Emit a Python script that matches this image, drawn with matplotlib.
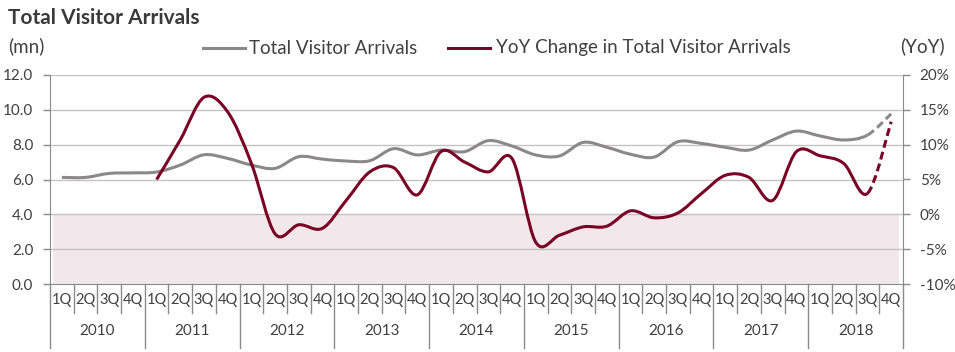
import numpy as np
import matplotlib
matplotlib.use("Agg")
import matplotlib.pyplot as plt
from matplotlib.path import Path
from matplotlib.patches import PathPatch
from matplotlib.lines import Line2D
import matplotlib.transforms as mtransforms

plt.rcParams['font.family'] = ['Lato', 'DejaVu Sans']

# data (quarterly, 2010 1Q .. 2018 4Q)
years = ['2010', '2011', '2012', '2013', '2014', '2015', '2016', '2017', '2018']
quarters = ['1Q', '2Q', '3Q', '4Q']
arrivals = [6.12, 6.12, 6.35, 6.38, 6.43, 6.83, 7.42, 7.21, 6.83, 6.64, 7.31, 7.17,
            7.06, 7.08, 7.77, 7.41, 7.69, 7.60, 8.23, 7.92, 7.41, 7.35, 8.13, 7.85,
            7.45, 7.29, 8.17, 8.07, 7.85, 7.69, 8.27, 8.78, 8.50, 8.27, 8.55, 9.77]
yoy = [np.nan, np.nan, np.nan, np.nan,
       5.0, 10.7, 16.8, 14.7, 7.3, -2.8, -1.5, -2.0,
       2.0, 6.1, 6.7, 2.8, 9.0, 7.5, 6.1, 8.0,
       -4.0, -3.0, -1.8, -1.7, 0.5, -0.5, 0.2, 3.0,
       5.6, 5.3, 2.0, 9.0, 8.4, 7.3, 3.0, 13.3]
left_ticks = [0, 2, 4, 6, 8, 10, 12]
right_ticks = [-10, -5, 0, 5, 10, 15, 20]
band_top = 4.0   # negative YoY zone (0% on right axis)

GRAY = '#8c8889'
RED = '#7a0026'
TXT = '#404040'
AXC = '#8a8a8a'


def smooth_paths(x, y, last_dashed=True):
    # excel-like smoothed line as cubic bezier segments (catmull-rom control points)
    x = np.asarray(x, float)
    y = np.asarray(y, float)
    n = len(x)
    segs = []
    for i in range(n - 1):
        p0 = np.array([x[max(i - 1, 0)], y[max(i - 1, 0)]])
        p1 = np.array([x[i], y[i]])
        p2 = np.array([x[i + 1], y[i + 1]])
        p3 = np.array([x[min(i + 2, n - 1)], y[min(i + 2, n - 1)]])
        c1 = p1 + (p2 - p0) / 6
        c2 = p2 - (p3 - p1) / 6
        segs.append((p1, c1, c2, p2))

    def build(ss):
        verts = [ss[0][0]]
        codes = [Path.MOVETO]
        for _, c1, c2, p2 in ss:
            verts += [c1, c2, p2]
            codes += [Path.CURVE4] * 3
        return Path(verts, codes)

    if last_dashed:
        return build(segs[:-1]), build(segs[-1:])
    return build(segs), None


fig = plt.figure(figsize=(9.55, 3.52), dpi=100)
ax = fig.add_axes([50 / 955, 1 - 284 / 352, 853 / 955, 209 / 352])
ax2 = ax.twinx()

n = len(arrivals)
xs = np.arange(n)
ax.set_xlim(-0.5, n - 0.5)
ax.set_ylim(0, 12)
ax2.set_ylim(-10, 20)

# shaded negative zone
ax.fill_between([-0.37, n - 0.68], 0, band_top, color='#f2e7eb', lw=0, zorder=0)

# gridlines
for v in left_ticks[1:]:
    ax.axhline(v, color='#c3c3c3', lw=1.0, zorder=1)

# total arrivals
solid, dashed = smooth_paths(xs, arrivals)
ax.add_patch(PathPatch(solid, fill=False, edgecolor=GRAY, lw=2.2, capstyle='butt', zorder=3))
ax.add_patch(PathPatch(dashed, fill=False, edgecolor=GRAY, lw=2.2, ls=(0, (2.6, 1.4)),
                       capstyle='butt', zorder=3))

# yoy change
yv = np.array(yoy, float)
ok = ~np.isnan(yv)
solid, dashed = smooth_paths(xs[ok], yv[ok])
ax2.add_patch(PathPatch(solid, fill=False, edgecolor=RED, lw=2.2, capstyle='butt', zorder=4))
ax2.add_patch(PathPatch(dashed, fill=False, edgecolor=RED, lw=2.2, ls=(0, (2.6, 1.4)),
                        capstyle='butt', zorder=4))

# axes styling
for a in (ax, ax2):
    a.spines['top'].set_visible(False)
    a.spines['left'].set_color(AXC)
    a.spines['right'].set_color(AXC)
    a.spines['bottom'].set_color(AXC)
ax.spines['right'].set_visible(False)
ax2.spines['left'].set_visible(False)
ax2.spines['bottom'].set_visible(False)

ax.set_yticks(left_ticks)
ax.set_yticklabels([f'{v:.1f}' for v in left_ticks])
ax.tick_params(axis='y', length=5, width=1, color=AXC, labelcolor=TXT, labelsize=11, pad=7)
ax2.set_yticks(right_ticks)
ax2.set_yticklabels([f'{v}%' for v in right_ticks])
ax2.tick_params(axis='y', length=5, width=1, color=AXC, labelcolor=TXT, labelsize=11, pad=7)
ax.set_xticks([])

# two-level category axis
trans = mtransforms.blended_transform_factory(ax.transData, ax.transAxes)
for k in range(n + 1):
    bottom = -0.306 if k % 4 == 0 else -0.139
    ax.add_line(Line2D([k - 0.5, k - 0.5], [0, bottom], transform=trans, color=AXC,
                       lw=1.0, clip_on=False))
for i in range(n):
    ax.text(i, -0.077, quarters[i % 4], transform=trans, ha='center', va='center',
            fontsize=10.5, color=TXT)
for j, yr in enumerate(years):
    ax.text(j * 4 + 1.5, -0.225, yr, transform=trans, ha='center', va='center',
            fontsize=11, color=TXT)

# titles / units
fig.text(8 / 955, 1 - 18 / 352, 'Total Visitor Arrivals', fontsize=15, fontweight='bold',
         color='#3a3a3a', ha='left', va='center')
fig.text(8 / 955, 1 - 46 / 352, '(mn)', fontsize=13.5, color=TXT, ha='left', va='center')
fig.text(945 / 955, 1 - 46 / 352, '(YoY)', fontsize=13.5, color=TXT, ha='right', va='center')

# legend
ly = 1 - 48 / 352
fig.add_artist(Line2D([203 / 955, 245 / 955], [ly, ly], color=GRAY, lw=2.2))
fig.text(249 / 955, ly, 'Total Visitor Arrivals', fontsize=13.5, color=TXT, ha='left', va='center')
fig.add_artist(Line2D([448 / 955, 490 / 955], [ly, ly], color=RED, lw=2.2))
fig.text(496 / 955, ly, 'YoY Change in Total Visitor Arrivals', fontsize=13.5, color=TXT,
         ha='left', va='center')

fig.savefig('out.png', dpi=100)
